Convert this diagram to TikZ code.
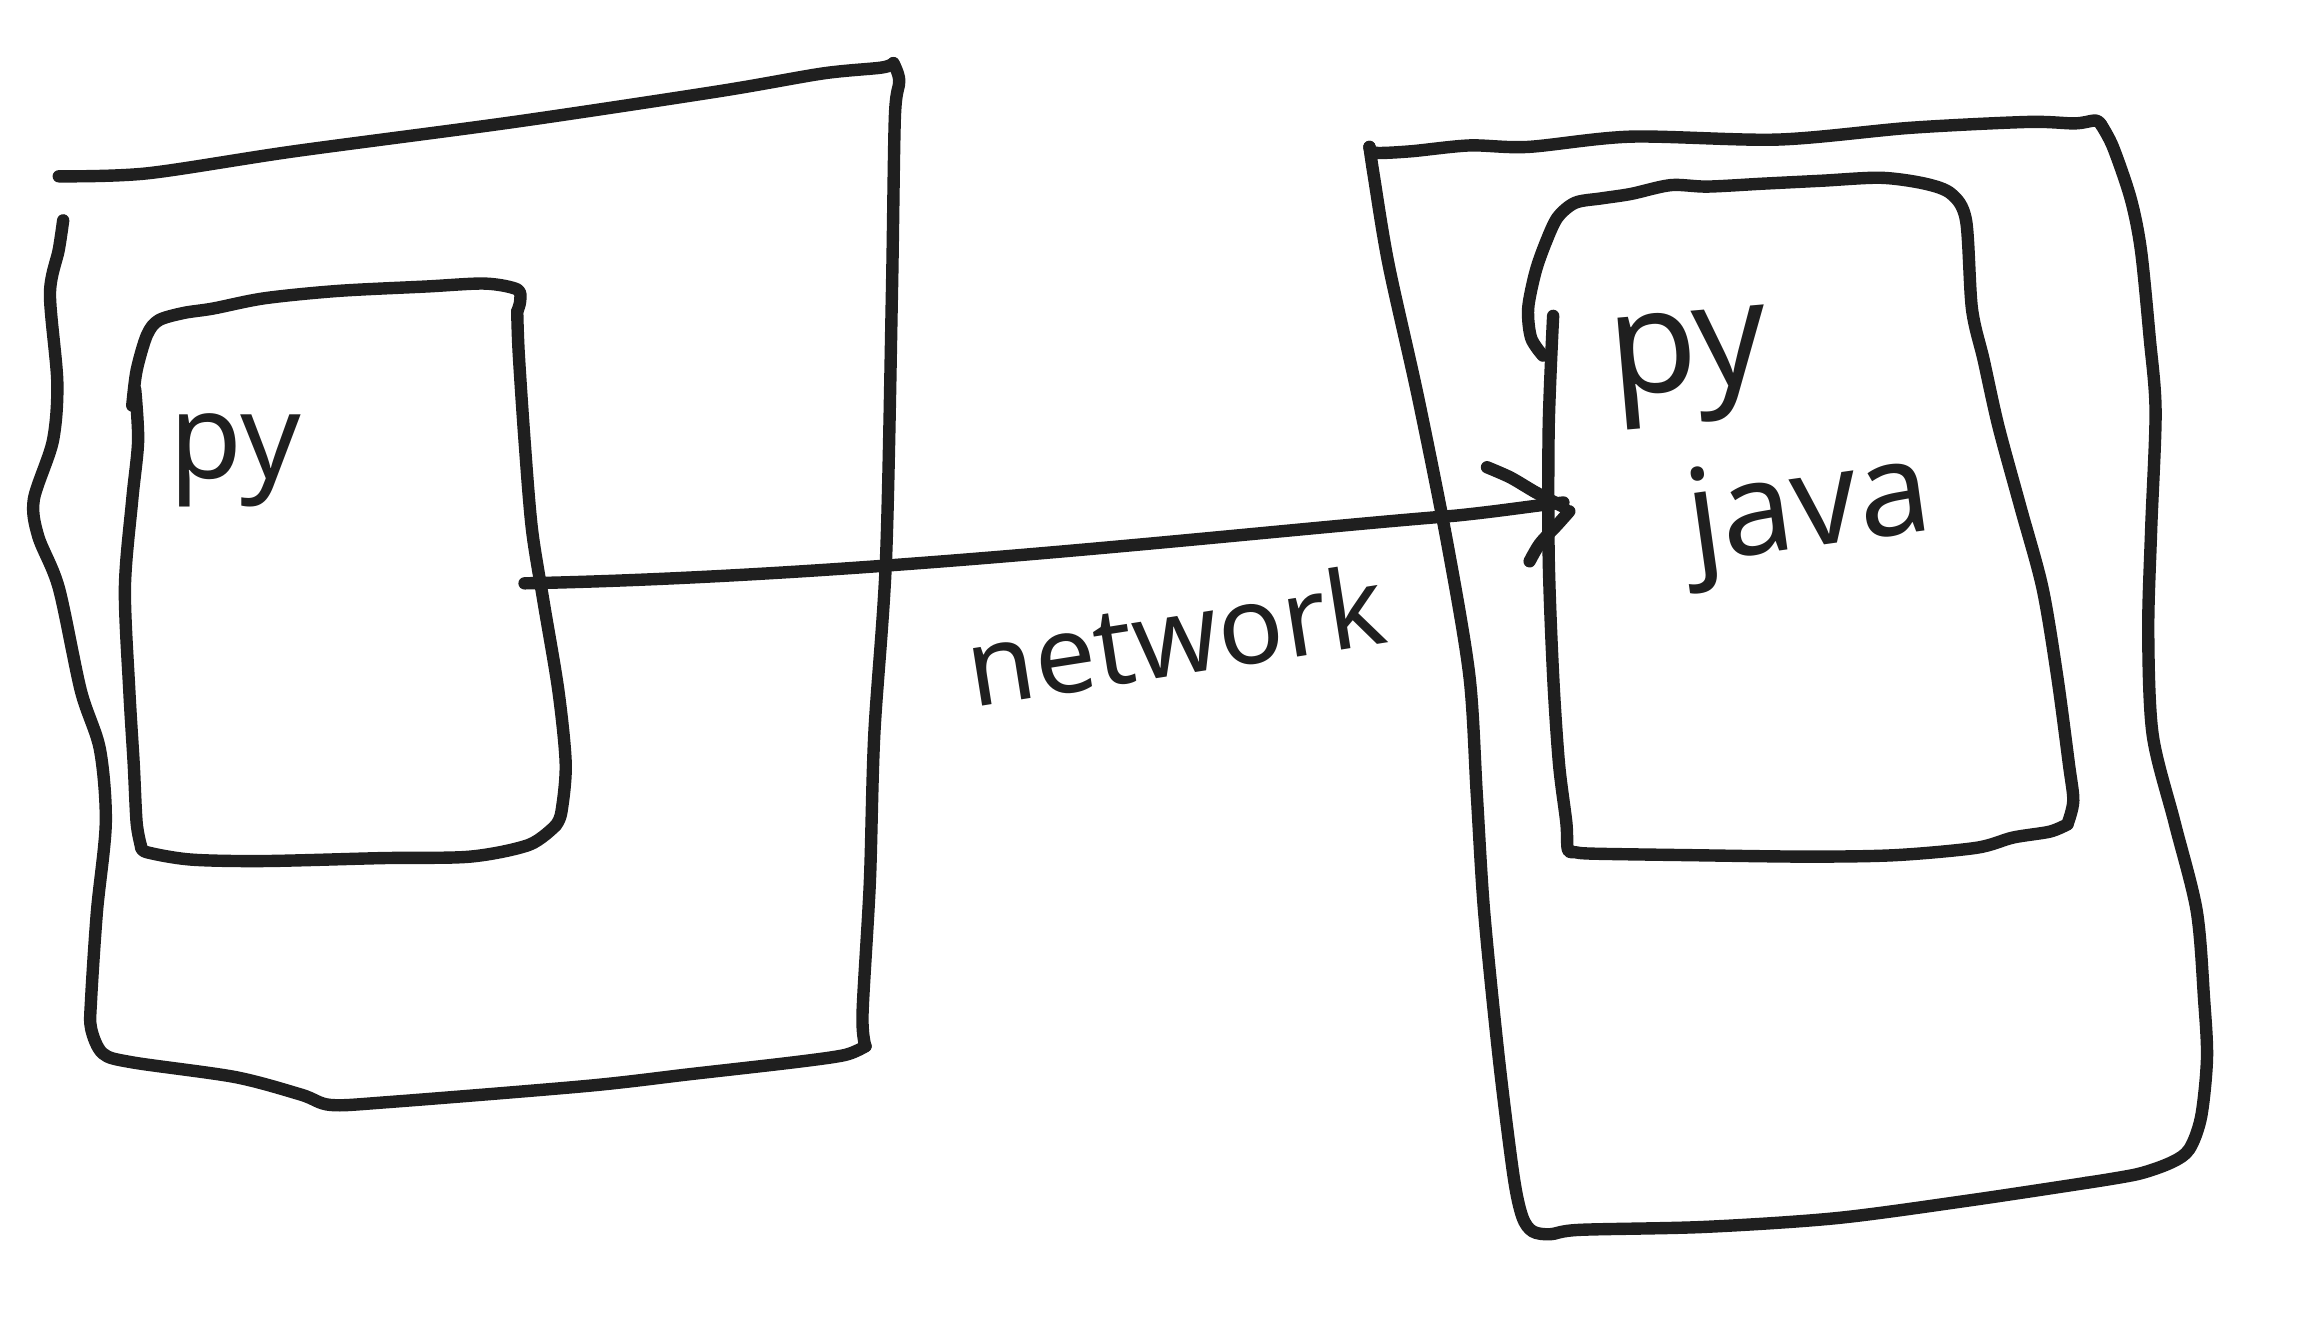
\documentclass[tikz,border=0pt]{standalone}
\usepackage{fontspec}
\setmainfont{Noto Sans}
\begin{document}
\begin{tikzpicture}[x=0.01cm,y=-0.01cm,
  pen/.style={line width=2.4pt,color=black!88,line cap=round,line join=round},
  hand/.style={text=black!88,inner sep=0pt}]
\useasboundingbox (0,0) rectangle (1568,904);
% left outer box
\draw[pen] plot[smooth,tension=0.5] coordinates {(40,120) (100,118) (200,103) (350,83) (490,62) (560,50) (600,46) (608,43)};
\draw[pen] plot[smooth,tension=0.5] coordinates {(608,43) (612,55) (609,80) (607,200) (603,380) (595,500) (592,600) (587,690) (589,712)};
\draw[pen] plot[smooth,tension=0.5] coordinates {(589,712) (575,718) (540,723) (470,731) (400,739) (265,750) (225,752) (205,745) (160,733) (90,723) (70,717) (62,700) (62,680) (66,620) (72,560) (68,510) (55,470) (40,400) (26,365) (23,340) (36,300) (39,260) (34,200) (40,170) (43,150)};
% left inner box
\draw[pen] plot[smooth,tension=0.5] coordinates {(90,276) (93,252) (100,228) (108,218) (125,213) (145,210) (180,203) (230,198) (290,195) (330,193) (352,197) (354,205) (352,212)};
\draw[pen] plot[smooth,tension=0.5] coordinates {(352,212) (353,240) (357,300) (362,360) (370,410) (380,470) (385,520) (382,553) (378,562)};
\draw[pen] plot[smooth,tension=0.5] coordinates {(378,562) (360,575) (320,583) (260,584) (180,586) (130,585) (100,580) (96,576)};
\draw[pen] plot[smooth,tension=0.5] coordinates {(96,576) (93,560) (91,520) (88,470) (85,400) (90,340) (94,300) (92,265)};
% right outer box
\draw[pen] plot[smooth,tension=0.5] coordinates {(932,100) (936,104) (960,103) (1000,99) (1040,100) (1110,93) (1210,95) (1300,87) (1380,83) (1412,84) (1426,82) (1430,85)};
\draw[pen] plot[smooth,tension=0.5] coordinates {(1430,85) (1438,100) (1450,135) (1457,170) (1463,230) (1467,280) (1464,360) (1462,430) (1465,500) (1480,560) (1495,620) (1500,680) (1502,720) (1498,760) (1490,782) (1478,791) (1455,799) (1420,805)};
\draw[pen] plot[smooth,tension=0.5] coordinates {(1420,805) (1340,817) (1250,829) (1160,835) (1075,837) (1055,840) (1043,838) (1036,828) (1030,800) (1020,720) (1010,620) (1005,540) (1000,460) (985,370) (965,270) (945,180) (935,120) (932,100)};
% right inner box
\draw[pen] plot[smooth,tension=0.5] coordinates {(1050,242) (1042,230) (1040,210) (1045,185) (1052,165) (1060,148) (1072,138) (1090,135) (1110,132) (1137,126) (1162,127) (1200,125) (1240,123) (1280,121) (1310,125) (1328,132) (1338,150) (1342,210) (1350,245) (1360,290) (1375,345) (1390,400) (1400,460) (1408,520) (1411,545) (1407,561)};
\draw[pen] plot[smooth,tension=0.5] coordinates {(1407,561) (1395,566) (1370,570) (1345,577) (1290,582) (1230,583) (1150,582) (1085,581) (1072,580) (1067,578) (1066,560) (1061,520) (1057,460) (1054,380) (1054,290) (1057,215)};
% connector
\coordinate (start) at (357,397);
\coordinate (tip) at (1064,342);
\draw[pen] (start) .. controls (600,392) and (850,362) .. (990,351) .. controls (1020,348) and (1045,344) .. (tip);
\draw[pen] plot[smooth,tension=0.5] coordinates {(1012,318) (1028,325) (1045,335) (1064,345)};
\draw[pen] plot[smooth,tension=0.5] coordinates {(1041,382) (1048,370) (1060,357) (1068,348)};
% texts
\node[hand,font=\fontsize{23}{25}\selectfont] (lpy) at (160,313) {py};
\node[hand,font=\fontsize{28}{30}\selectfont,rotate=5] (rpy) at (1150,250) {py};
\node[hand,font=\fontsize{25}{27}\selectfont,rotate=8] (java) at (1232,350) {java};
\node[hand,font=\fontsize{21}{23}\selectfont,rotate=9] (net) at (800,432) {network};
\end{tikzpicture}
\end{document}
